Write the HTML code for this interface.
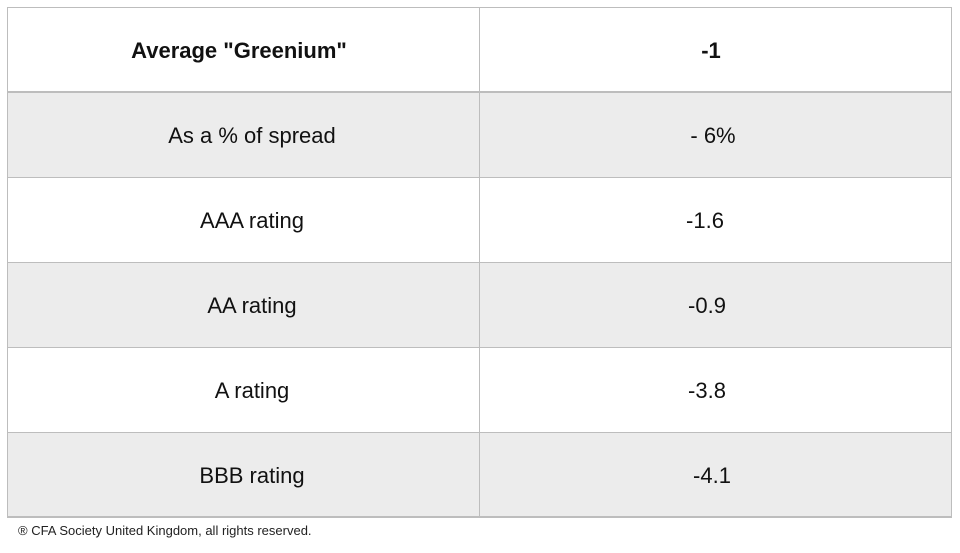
<!DOCTYPE html>
<html><head><meta charset="utf-8"><style>
body{margin:0;width:960px;height:553px;background:#fff;font-family:"Liberation Sans",sans-serif;position:relative;overflow:hidden}
.c{position:absolute;box-sizing:border-box;display:flex;align-items:center;justify-content:center;font-size:22px;color:#111;padding-top:3px}
.g{background:#ececec}
.ln{position:absolute;background:#bdbdbd}
</style></head><body>
<div>
<div class="c" style="left:7px;top:7px;width:472px;height:85px;font-weight:bold;padding-right:8px">Average "Greenium"</div>
<div class="c" style="left:479px;top:7px;width:472px;height:85px;font-weight:bold;padding-right:8px">-1</div>
<div class="c g" style="left:7px;top:92px;width:472px;height:85px;padding-left:18px">As a % of spread</div>
<div class="c g" style="left:479px;top:92px;width:472px;height:85px;padding-right:4px">- 6%</div>
<div class="c" style="left:7px;top:177px;width:472px;height:85px;padding-left:18px">AAA rating</div>
<div class="c" style="left:479px;top:177px;width:472px;height:85px;padding-right:20px">-1.6</div>
<div class="c g" style="left:7px;top:262px;width:472px;height:85px;padding-left:18px">AA rating</div>
<div class="c g" style="left:479px;top:262px;width:472px;height:85px;padding-right:16px">-0.9</div>
<div class="c" style="left:7px;top:347px;width:472px;height:85px;padding-left:18px">A rating</div>
<div class="c" style="left:479px;top:347px;width:472px;height:85px;padding-right:16px">-3.8</div>
<div class="c g" style="left:7px;top:432px;width:472px;height:85px;padding-left:18px">BBB rating</div>
<div class="c g" style="left:479px;top:432px;width:472px;height:85px;padding-right:6px">-4.1</div>
<div class="ln" style="left:7px;top:7px;width:945px;height:1px"></div>
<div class="ln" style="left:7px;top:91px;width:945px;height:2px"></div>
<div class="ln" style="left:7px;top:177px;width:945px;height:1px"></div>
<div class="ln" style="left:7px;top:262px;width:945px;height:1px"></div>
<div class="ln" style="left:7px;top:347px;width:945px;height:1px"></div>
<div class="ln" style="left:7px;top:432px;width:945px;height:1px"></div>
<div class="ln" style="left:7px;top:516px;width:945px;height:2px"></div>
<div class="ln" style="left:7px;top:7px;width:1px;height:511px"></div>
<div class="ln" style="left:479px;top:7px;width:1px;height:511px"></div>
<div class="ln" style="left:951px;top:7px;width:1px;height:511px"></div>
</div>
<div style="position:absolute;left:18px;top:523px;font-size:13px;color:#222">® CFA Society United Kingdom, all rights reserved.</div>
</body></html>
